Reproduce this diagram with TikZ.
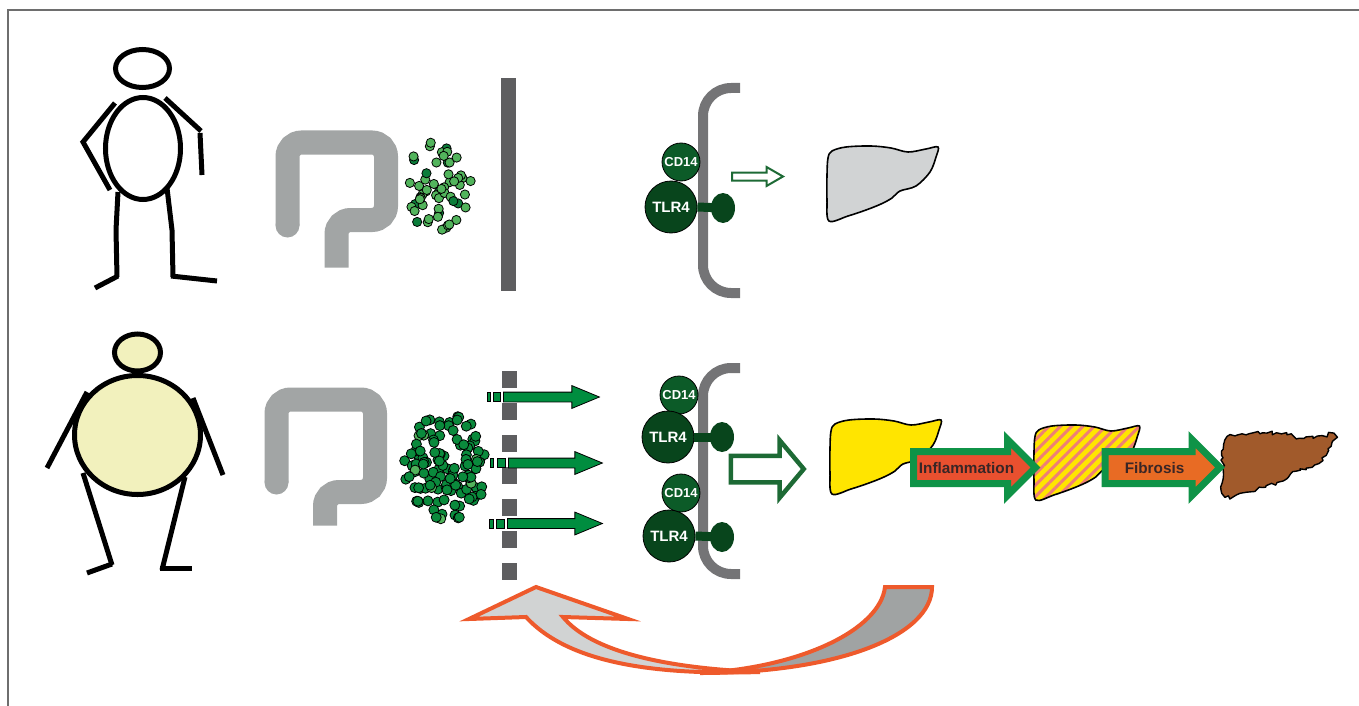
\documentclass[tikz,border=0pt]{standalone}
\usepackage{fontspec}
\setsansfont{Liberation Sans}
\usetikzlibrary{shapes.geometric,shapes.arrows,patterns.meta,decorations.pathmorphing}

\definecolor{framegray}{HTML}{6E6E6E}
\definecolor{gutgray}{HTML}{A2A5A5}
\definecolor{wallgray}{HTML}{5E5E60}
\definecolor{membgray}{HTML}{747476}
\definecolor{buglight}{HTML}{52B45C}
\definecolor{bugdark}{HTML}{0B7D3A}
\definecolor{bugdeep}{HTML}{0A8A3C}
\definecolor{cdgreen}{HTML}{0C5B28}
\definecolor{tlrgreen}{HTML}{08451C}
\definecolor{leakgreen}{HTML}{008D3F}
\definecolor{bordergreen}{HTML}{0F9347}
\definecolor{opengreen}{HTML}{1D6A35}
\definecolor{skin}{HTML}{F2F1BD}
\definecolor{liverhealthy}{HTML}{D1D3D4}
\definecolor{liverfat}{HTML}{FFE500}
\definecolor{stripepink}{HTML}{EE7F76}
\definecolor{liverscar}{HTML}{A15A2B}
\definecolor{inflamred}{HTML}{E9502F}
\definecolor{fibroorange}{HTML}{E86B24}
\definecolor{loopred}{HTML}{EE5A2C}
\definecolor{looplight}{HTML}{D1D3D3}
\definecolor{loopdark}{HTML}{A0A3A3}
\definecolor{labeltext}{HTML}{3A2626}

\newcommand\liverpath{plot[smooth cycle, tension=0.55] coordinates {(1,35) (2,18) (6,11) (20,7) (45,6) (65,8) (82,12) (100,9) (112,7) (110,17) (104,32) (90,46) (74,51) (66,58) (55,64) (40,70) (22,76) (3,81) (1,60)}}

\tikzset{
  limb/.style={line width=5, line cap=butt},
  gut/.style={gutgray, line width=24, rounded corners=14pt},
  bug/.style={draw=black, line width=0.8},
  membrane/.style={membgray, line width=10, rounded corners=28pt},
  receptor/.style={circle, draw=black, line width=0.8, inner sep=0, text=white},
  cd/.style={receptor, fill=cdgreen, minimum size=38, font=\sffamily\bfseries\fontsize{13}{13}\selectfont},
  tlr/.style={receptor, fill=tlrgreen, minimum size=52, font=\sffamily\bfseries\fontsize{15}{15}\selectfont},
  knob/.style={ellipse, fill=tlrgreen, minimum width=24, minimum height=30, inner sep=0},
  leak/.style={single arrow, draw=black, line width=0.8, fill=leakgreen, inner sep=0, inner ysep=4.5,
    minimum width=0, single arrow head extend=6.5, single arrow tip angle=45, single arrow head indent=0, anchor=tail},
  openarrow/.style={single arrow, draw=opengreen, fill=white, inner sep=0, minimum width=0,
    single arrow head indent=0, anchor=tail},
  stage/.style={single arrow, draw=bordergreen, line width=7, inner xsep=0, inner ysep=6.5, text height=12pt, text depth=0pt,
    minimum width=0, single arrow head extend=12, single arrow tip angle=90, single arrow head indent=0,
    font=\sffamily\bfseries\fontsize{15.3}{15.3}\selectfont, text=labeltext, anchor=tail},
  loop/.style={loopred, line width=4}
}

\begin{document}
\begin{tikzpicture}[x=1pt, y=-1pt]
  \useasboundingbox (0,0) rectangle (1359,706);
  \draw[framegray, line width=1.7] (8,706) -- (8,10) -- (1359,10);

  \draw[limb] (115,103) -- (83,142) -- (110,190);
  \draw[limb] (165,98) -- (201,131);
  \draw[limb] (200,133) -- (202,175);
  \draw[limb] (118,192) -- (116,230) -- (117,277);
  \draw[limb] (118,276) -- (95,288);
  \draw[limb] (167,188) -- (172,230) -- (173,277);
  \draw[limb] (171,276) -- (217,281);
  \draw[limb, fill=white] (143,148.5) ellipse (37.5 and 51);
  \draw[limb, fill=white] (142.5,68.5) ellipse (27 and 19);

  \draw[limb] (87,392) -- (47,468);
  \draw[limb] (193,398) -- (223,475);
  \draw[limb] (83,473) -- (112,565);
  \draw[limb] (112,564) -- (87,573);
  \draw[limb] (185,477) -- (162,570);
  \draw[limb] (160,568) -- (192,568);
  \draw[limb, fill=skin] (137.5,435) ellipse (63 and 59.5);
  \draw[limb, fill=skin] (137.5,352.5) ellipse (23 and 18.5);

  \begin{scope}[shift={(287.5,142.5)}]
    \draw[gut] (0,83) -- (0,0) -- (98.5,0) -- (98.5,77.5) -- (49,77.5) -- (49,125);
    \fill[gutgray] (0,83) circle (12);
  \end{scope}
  \begin{scope}[shift={(276.5,399.5)}]
    \draw[gut] (0,83) -- (0,0) -- (98.5,0) -- (98.5,92.5) -- (48.5,92.5) -- (48.5,126);
    \fill[gutgray] (0,83) circle (12);
  \end{scope}

  \pgfmathsetseed{42}
  \foreach \k in {1,...,58}{
    \pgfmathsetmacro\ang{360*rnd}
    \pgfmathsetmacro\rad{sqrt(rnd)}
    \pgfmathtruncatemacro\dk{rnd<0.15}
    \ifnum\dk=1 \def\bugcol{bugdark}\else\def\bugcol{buglight}\fi
    \filldraw[bug, fill=\bugcol] ({438+33*\rad*cos(\ang)},{186+47*\rad*sin(\ang)}) circle (4.6);
  }
  \foreach \k in {1,...,125}{
    \pgfmathsetmacro\ang{360*rnd}
    \pgfmathsetmacro\rad{sqrt(rnd)}
    \pgfmathtruncatemacro\dk{rnd<0.06}
    \ifnum\dk=1 \def\bugcol{buglight}\else\def\bugcol{bugdeep}\fi
    \filldraw[bug, fill=\bugcol] ({446+42*\rad*cos(\ang)},{467+54*\rad*sin(\ang)}) circle (5);
  }

  \fill[wallgray] (501,78) rectangle (516,291);
  \draw[wallgray, line width=15, dash pattern=on 17 off 15] (509,371) -- (509,580);

  \filldraw[bug, fill=leakgreen] (487,392.5) rectangle (490,401.5);
  \filldraw[bug, fill=leakgreen] (493,392.5) rectangle (500,401.5);
  \node[leak, minimum height=96] (leakA) at (503,397) {};
  \filldraw[bug, fill=leakgreen] (490,458.5) rectangle (493,467.5);
  \filldraw[bug, fill=leakgreen] (497,458.5) rectangle (505,467.5);
  \node[leak, minimum height=94] (leakB) at (508,463) {};
  \filldraw[bug, fill=leakgreen] (489,519) rectangle (493,528);
  \filldraw[bug, fill=leakgreen] (496,519) rectangle (504,528);
  \node[leak, minimum height=95] (leakC) at (507,523.5) {};

  \draw[membrane] (740,88) -- (703,88) -- (703,293) -- (740,293);
  \node[knob] (knobA) at (723,208) {};
  \node[cd] (cdA) at (681,162) {CD14};
  \node[tlr] (tlrA) at (671,207) {TLR4};
  \draw[tlrgreen, line width=9] (tlrA.east) -- (knobA.center);

  \draw[membrane] (740,368) -- (703,368) -- (703,574) -- (740,574);
  \node[knob] (knobB) at (722,437) {};
  \node[cd] (cdB) at (679,395) {CD14};
  \node[tlr] (tlrB) at (668,437) {TLR4};
  \draw[tlrgreen, line width=9] (tlrB.east) -- (knobB.center);
  \node[knob] (knobC) at (722,537) {};
  \node[cd] (cdC) at (681,493) {CD14};
  \node[tlr] (tlrC) at (669,536) {TLR4};
  \draw[tlrgreen, line width=9] (tlrC.east) -- (knobC.center);

  \node[openarrow, line width=2, inner ysep=3, single arrow head extend=5.5, single arrow tip angle=60,
    minimum height=51] (signalA) at (731,176.5) {};
  \node[openarrow, line width=4.5, inner ysep=11, single arrow head extend=15.5, single arrow tip angle=100,
    minimum height=73] (signalB) at (728.5,469) {};

  \draw[line width=1.6, fill=liverhealthy, shift={(826,140)}] \liverpath;
  \draw[line width=1.6, fill=liverfat, shift={(829,413)}] \liverpath;
  \fill[liverfat, shift={(1033,419)}, xscale=0.95] \liverpath;
  \draw[line width=1.6, pattern={Lines[angle=45, distance=8pt, line width=3pt]}, pattern color=stripepink,
    shift={(1033,419)}, xscale=0.95] \liverpath;
  \draw[line width=1.4, line join=round, fill=liverscar, shift={(1222,428)}, yscale=0.85, decorate,
    decoration={random steps, segment length=3.5pt, amplitude=2.2pt}] \liverpath;

  \node[stage, fill=inflamred, minimum height=122] (inflam) at (910,467.5) {Inflammation};
  \node[stage, fill=fibroorange, minimum height=115] (fibro) at (1101.5,467.5) {Fibrosis};

  \draw[loop, fill=loopdark] (932,587) .. controls (932,635) and (840,673) .. (700,673)
    .. controls (800,668) and (880,630) .. (885,587) -- cycle;
  \draw[loop, fill=looplight] (526,617) .. controls (570,665) and (660,675) .. (760,672)
    .. controls (660,668) and (590,650) .. (563,617) -- (628,619) -- (536,587) -- (469,619) -- cycle;
\end{tikzpicture}
\end{document}
